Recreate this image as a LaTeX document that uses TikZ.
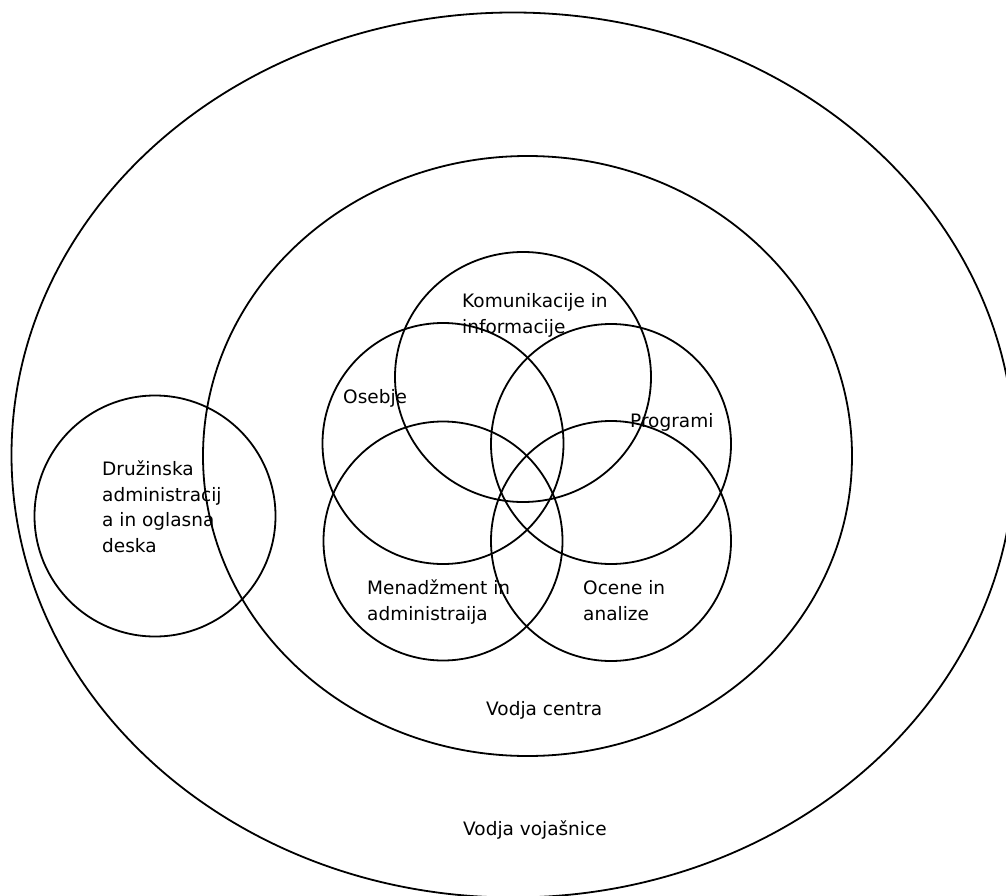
\documentclass[tikz,border=0pt]{standalone}
\usepackage{fontspec}
\setmainfont{DejaVu Sans}
\usetikzlibrary{shapes.geometric}
\tikzset{
  ring/.style={draw=black, line width=1.8pt, circle, inner sep=0pt},
  oval/.style={draw=black, line width=1.8pt, ellipse, inner sep=0pt},
  lbl/.style={anchor=base west, inner sep=0pt, align=left,
    font={\fontsize{18.5}{25.5}\selectfont}}
}
\begin{document}
\begin{tikzpicture}[x=1pt,y=-1pt]
\useasboundingbox (0,0) rectangle (1006,896);
\clip (0,0) rectangle (1006,896);
\fill[white] (0,0) rectangle (1006,896);
% big ellipses
\node[oval, minimum width=1003pt, minimum height=885pt] (outer) at (513,455) {};
\node[oval, minimum width=649pt, minimum height=600pt] (inner) at (527.5,456) {};
% circles
\node[ring, minimum size=241pt] (fam) at (155,516) {};
\node[oval, minimum width=256pt, minimum height=250pt] (kom) at (523,377) {};
\node[ring, minimum size=241pt] (ose) at (443,443.5) {};
\node[ring, minimum size=240pt] (pro) at (611,444) {};
\node[ring, minimum size=239pt] (men) at (443,541) {};
\node[ring, minimum size=240pt] (oce) at (611,541) {};
% labels (base anchor = baseline of last line)
\node[lbl] (tkom) at (462,333) {Komunikacije in\\informacije};
\node[lbl] (tose) at (343,403) {Osebje};
\node[lbl] (tpro) at (630,427) {Programi};
\node[lbl] (tmen) at (367,620) {Menadžment in\\administraija};
\node[lbl] (toce) at (583,620) {Ocene in\\analize};
\node[lbl] (tfam) at (102,552) {Družinska\\administracij\\a in oglasna\\deska};
\node[lbl] (tcen) at (486,715) {Vodja centra};
\node[lbl] (tvoj) at (463,835) {Vodja vojašnice};
\end{tikzpicture}
\end{document}
